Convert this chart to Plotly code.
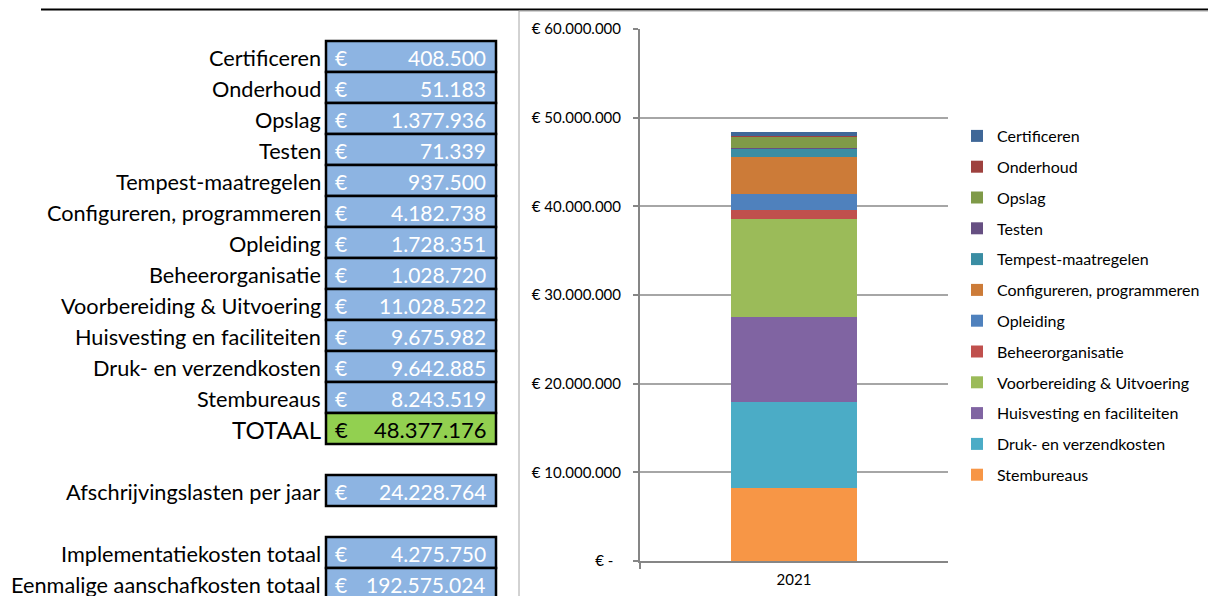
import plotly.graph_objects as go

# Cost items (top to bottom as listed in the table)
categories = [
    "Certificeren", "Onderhoud", "Opslag", "Testen", "Tempest-maatregelen",
    "Configureren, programmeren", "Opleiding", "Beheerorganisatie",
    "Voorbereiding & Uitvoering", "Huisvesting en faciliteiten",
    "Druk- en verzendkosten", "Stembureaus",
]
values = [
    408500, 51183, 1377936, 71339, 937500, 4182738,
    1728351, 1028720, 11028522, 9675982, 9642885, 8243519,
]
colors = [
    "#3F6797", "#9E413E", "#7F9A48", "#664F82", "#3A8DA3", "#CC7B38",
    "#4F81BD", "#C0504D", "#9BBB59", "#8064A2", "#4BACC6", "#F79646",
]
year = "2021"

totaal = 48377176
afschrijving_label = "Afschrijvingslasten per jaar"
afschrijving = 24228764
extra_labels = ["Implementatiekosten totaal", "Eenmalige aanschafkosten totaal"]
extra_values = [4275750, 192575024]

y_tickvals = [0, 10000000, 20000000, 30000000, 40000000, 50000000, 60000000]
y_ticktext = ["€ -\u00a0\u00a0", "€ 10.000.000", "€ 20.000.000", "€ 30.000.000",
              "€ 40.000.000", "€ 50.000.000", "€ 60.000.000"]

W, H = 1208, 596
FONT = "Lato"
CELL_BLUE = "#8DB4E2"
CELL_GREEN = "#92D050"


def euro(v):
    return f"{v:,}".replace(",", ".")


fig = go.Figure()

# Stacked bar: bottom item first; legend lists the items top-down
n = len(categories)
for idx in range(n - 1, -1, -1):
    name, val, col = categories[idx], values[idx], colors[idx]
    fig.add_trace(go.Bar(
        x=[year], y=[val], name=name, legendgroup=name, legendrank=idx + 1,
        marker=dict(color=col, line=dict(width=0)),
        width=0.406, xaxis="x", yaxis="y",
        hovertemplate=name + ": € %{y:,.0f}<extra></extra>",
    ))

# Empty helper trace so the pixel-grid subplot used for the table exists
fig.add_trace(go.Scatter(x=[], y=[], xaxis="x2", yaxis="y2",
                         showlegend=False, hoverinfo="skip"))

shapes = []
annotations = []

# Sheet decorations: header rule and chart area border
shapes.append(dict(type="line", xref="x2", yref="y2", x0=41, x1=W, y0=9.5, y1=9.5,
                   line=dict(color="black", width=2)))
shapes.append(dict(type="rect", xref="x2", yref="y2", x0=519, x1=W + 5, y0=11, y1=H + 5,
                   line=dict(color="#a6a6a6", width=1)))

ROW_TOP = 41
ROW_H = 31
CELL_X0, CELL_X1 = 326, 496
LABEL_X = 323
EURO_X = 333
NUM_X = 488


def add_row(row, label, value, fill, text_color, label_size=21.7, value_size=21):
    y0 = ROW_TOP + ROW_H * row
    y1 = y0 + ROW_H
    yc = (y0 + y1) / 2
    shapes.append(dict(type="rect", xref="x2", yref="y2",
                       x0=CELL_X0, x1=CELL_X1, y0=y0, y1=y1,
                       fillcolor=fill, line=dict(color="black", width=2.5)))
    annotations.append(dict(xref="x2", yref="y2", x=LABEL_X, y=yc + 1, text=label,
                            showarrow=False, xanchor="right", yanchor="middle",
                            font=dict(family=FONT, size=label_size, color="black")))
    annotations.append(dict(xref="x2", yref="y2", x=EURO_X, y=yc + 1, text="€",
                            showarrow=False, xanchor="left", yanchor="middle",
                            font=dict(family=FONT, size=value_size, color=text_color)))
    annotations.append(dict(xref="x2", yref="y2", x=NUM_X, y=yc + 1, text=euro(value),
                            showarrow=False, xanchor="right", yanchor="middle",
                            font=dict(family=FONT, size=value_size, color=text_color)))


for i, (name, val) in enumerate(zip(categories, values)):
    add_row(i, name, val, CELL_BLUE, "white")

add_row(n, "TOTAAL", totaal, CELL_GREEN, "black", label_size=24, value_size=22)
add_row(n + 2, afschrijving_label, afschrijving, CELL_BLUE, "white")
for j, (lab, val) in enumerate(zip(extra_labels, extra_values)):
    add_row(n + 4 + j, lab, val, CELL_BLUE, "white")

fig.update_layout(
    width=W, height=H,
    margin=dict(l=0, r=0, t=0, b=0, autoexpand=False),
    paper_bgcolor="white",
    plot_bgcolor="rgba(0,0,0,0)",
    barmode="stack",
    bargap=0,
    font=dict(family=FONT, color="black"),
    shapes=shapes,
    annotations=annotations,
    showlegend=True,
    legend=dict(
        x=957 / W, xanchor="left",
        y=1 - 119 / H, yanchor="top",
        traceorder="grouped",
        tracegroupgap=7,
        font=dict(family=FONT, size=16, color="black"),
        bgcolor="rgba(0,0,0,0)",
        itemwidth=30,
    ),
    xaxis=dict(
        domain=[640 / W, 948 / W],
        anchor="y",
        type="category",
        range=[-0.5, 0.5],
        tickson="boundaries",
        ticks="outside", ticklen=6, tickwidth=1.5, tickcolor="#868686",
        showline=True, linecolor="#868686", linewidth=2,
        showgrid=False,
        tickfont=dict(family=FONT, size=15, color="black"),
        ticklabelstandoff=4,
        automargin=False,
        fixedrange=True,
    ),
    yaxis=dict(
        domain=[1 - 561 / H, 1 - 29 / H],
        anchor="x",
        range=[0, 60000000],
        tickvals=y_tickvals,
        ticktext=y_ticktext,
        ticks="outside", ticklen=5, tickwidth=1.5, tickcolor="#868686",
        showline=True, linecolor="#868686", linewidth=2,
        showgrid=True, gridcolor="#a6a6a6", gridwidth=1.5,
        zeroline=False,
        tickfont=dict(family=FONT, size=15, color="black"),
        ticklabelstandoff=9,
        automargin=False,
        fixedrange=True,
    ),
    xaxis2=dict(domain=[0, 1], anchor="y2", range=[0, W], visible=False,
                automargin=False, fixedrange=True),
    yaxis2=dict(domain=[0, 1], anchor="x2", range=[H, 0], visible=False,
                automargin=False, fixedrange=True),
)

fig.write_html("out.html")
